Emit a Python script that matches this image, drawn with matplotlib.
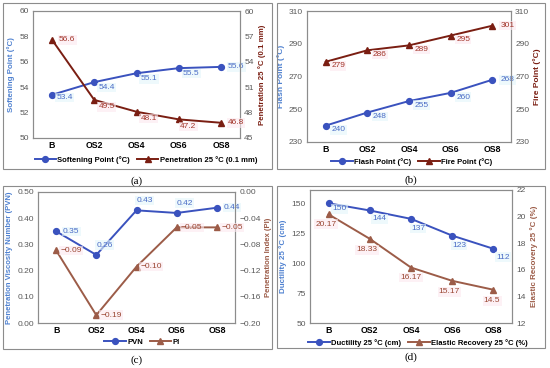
import matplotlib
matplotlib.use("Agg")
import matplotlib.pyplot as plt
from matplotlib.patches import Rectangle

plt.rcParams['font.family'] = ['Liberation Sans', 'DejaVu Sans']

cats = ['B', 'OS2', 'OS4', 'OS6', 'OS8']
softening = [53.4, 54.4, 55.1, 55.5, 55.6]
penetration = [56.6, 49.5, 48.1, 47.2, 46.8]
flash = [240, 248, 255, 260, 268]
fire = [279, 286, 289, 295, 301]
pvn = [0.35, 0.26, 0.43, 0.42, 0.44]
pi = [-0.089, -0.188, -0.114, -0.054, -0.054]
pi_labels = ['\u22120.09', '\u22120.19', '\u22120.10', '\u22120.05', '\u22120.05']
ductility = [150, 144, 137, 123, 112]
elastic = [20.17, 18.33, 16.17, 15.17, 14.5]

W, H = 550, 368
fig = plt.figure(figsize=(W / 100, H / 100), dpi=100)

BLUE = '#3A52BE'
BLUE_TXT = '#4A6CC6'
DRED = '#7A1E12'
DRED_TXT = '#A2352A'
BROWN = '#9C5C48'
BROWN_TXT = '#9A4632'
GREY = '#595959'


def px_box(l, t, r, b):
    return [l / W, 1 - b / H, (r - l) / W, (b - t) / H]


def frame(l, t, r, b):
    fig.patches.append(Rectangle((l / W, 1 - b / H), (r - l) / W, (b - t) / H,
                                 transform=fig.transFigure, fill=False,
                                 edgecolor='#8C8C8C', lw=0.8))


def style(ax, ax2):
    for a in (ax, ax2):
        a.tick_params(length=0, labelsize=6, labelcolor=GREY, pad=3)
        for s in a.spines.values():
            s.set_color('#8C8C8C')
            s.set_linewidth(0.8)
    ax.set_xticks(range(len(cats)))
    ax.set_xticklabels(cats, fontweight='bold', fontsize=6.3, color='black')
    ax.tick_params(axis='x', pad=2.5)
    ax.set_xlim(-0.45, len(cats) - 0.55)


def labels(ax, vals, texts, offsets, color, ha='left', bg='#FCE9EF'):
    for i, (v, t) in enumerate(zip(vals, texts)):
        dx, dy = offsets[i]
        ax.annotate(t, (i, v), xytext=(dx, dy), textcoords='offset points',
                    ha=ha, va='center', fontsize=6, color=color,
                    bbox=dict(boxstyle='square,pad=0.15', fc=bg, ec='none', alpha=0.6))


def panel(rect, y1, y2, lim1, lim2, ticks1, ticks2, c2, lab1, lab2, names, lsize=6):
    ax = fig.add_axes(px_box(*rect))
    ax2 = ax.twinx()
    x = range(len(cats))
    l1, = ax.plot(x, y1, color=BLUE, lw=1.4, marker='o', ms=4.2, label=names[0])
    l2, = ax2.plot(x, y2, color=c2, lw=1.4, marker='^', ms=4.2, label=names[1])
    ax.set_ylim(*lim1)
    ax2.set_ylim(*lim2)
    ax.set_yticks(ticks1)
    ax2.set_yticks(ticks2)
    ax.set_ylabel(lab1, fontsize=lsize, fontweight='bold', color='#4F81D0', labelpad=3)
    ax2.set_ylabel(lab2, fontsize=lsize, fontweight='bold', color=c2, labelpad=3)
    style(ax, ax2)
    return ax, ax2, (l1, l2)


def legend(handles, cx, cy):
    fig.legend(handles, [h.get_label() for h in handles], loc='center',
               bbox_to_anchor=(cx / W, 1 - cy / H), ncol=2, frameon=False,
               prop=dict(size=5.5, weight='bold'), handlelength=2.8,
               columnspacing=0.9, handletextpad=0.2, borderpad=0.1)


def caption(t, cx, cy):
    fig.text(cx / W, 1 - cy / H, t, ha='center', va='center', fontsize=8,
             family='Liberation Serif')


# (a)
frame(3, 3, 272, 169)
ax, ax2, hs = panel((33, 11, 240, 138), softening, penetration, (50, 60), (45, 60),
                    [50, 52, 54, 56, 58, 60], [45, 48, 51, 54, 57, 60], DRED,
                    'Softening Point (°C)', 'Penetration 25 °C (0.1 mm)',
                    ['Softening Point (°C)', 'Penetration 25 °C (0.1 mm)'], lsize=5.7)
labels(ax, softening, [f'{v:.1f}' for v in softening],
       [(3, -2), (3, -4), (3, -4), (3, -4), (5, 0)], BLUE_TXT, bg='#E4F6FA')
labels(ax2, penetration, [f'{v:.1f}' for v in penetration],
       [(5, 0), (3, -5), (3, -5), (1, -5), (5, 0)], DRED_TXT)
legend(hs, 146, 160)
caption('(a)', 137, 181)

# (b)
frame(277, 3, 545, 169)
ax, ax2, hs = panel((307, 11, 511, 142), flash, fire, (230, 310), (230, 310),
                    range(230, 311, 20), range(230, 311, 20), DRED,
                    'Flash Point (°C)', 'Fire Point (°C)',
                    ['Flash Point (°C)', 'Fire Point (°C)'])
labels(ax, flash, [str(v) for v in flash],
       [(4, -3), (4, -3), (4, -3), (4, -3), (6, 0)], BLUE_TXT, bg='#E4F6FA')
labels(ax2, fire, [str(v) for v in fire],
       [(4, -3), (4, -3), (4, -3), (4, -3), (6, 0)], DRED_TXT)
legend(hs, 412, 162)
caption('(b)', 411, 180)

# (c)
frame(3, 186, 272, 349)
ax, ax2, hs = panel((38, 192, 235, 323), pvn, pi, (0, 0.5), (-0.2, 0.0),
                    [0, 0.1, 0.2, 0.3, 0.4, 0.5], [-0.2, -0.16, -0.12, -0.08, -0.04, 0.0], BROWN,
                    'Penetration Viscosity Number (PVN)', 'Penetration Index (PI)',
                    ['PVN', 'PI'], lsize=5.6)
ax.set_yticklabels([f'{t:.2f}' for t in [0, 0.1, 0.2, 0.3, 0.4, 0.5]])
ax2.set_yticklabels([f'{t:.2f}'.replace('-', '\u2212') for t in [-0.2, -0.16, -0.12, -0.08, -0.04]] + ['0.00'])
labels(ax, pvn, [f'{v:.2f}' for v in pvn],
       [(5, 0), (0, 7), (0, 7), (0, 7), (5, 0)], BLUE_TXT, bg='#E4F6FA')
labels(ax2, pi, pi_labels, [(3, 0)] * 5, BROWN_TXT)
legend(hs, 142, 342)
caption('(c)', 137, 360)

# (d)
frame(277, 186, 545, 348)
ax, ax2, hs = panel((310, 190, 512, 323), ductility, elastic, (50, 161.1), (12, 22),
                    [50, 75, 100, 125, 150], [12, 14, 16, 18, 20, 22], BROWN,
                    'Ductility 25 °C (cm)', 'Elastic Recovery 25 °C (%)',
                    ['Ductility 25 °C (cm)', 'Elastic Recovery 25 °C (%)'], lsize=5.8)
labels(ax, ductility, [str(v) for v in ductility],
       [(3, -4), (2, -6), (0, -7), (0, -7), (2, -6)], BLUE_TXT, bg='#E4F6FA')
labels(ax2, elastic, [f'{v:g}' for v in elastic],
       [(-2, -7), (-2, -8), (0, -7), (-2, -8), (-1, -8)], BROWN_TXT, ha='center')
legend(hs, 418, 343)
caption('(d)', 411, 357)

fig.savefig('out.png', dpi=100)
